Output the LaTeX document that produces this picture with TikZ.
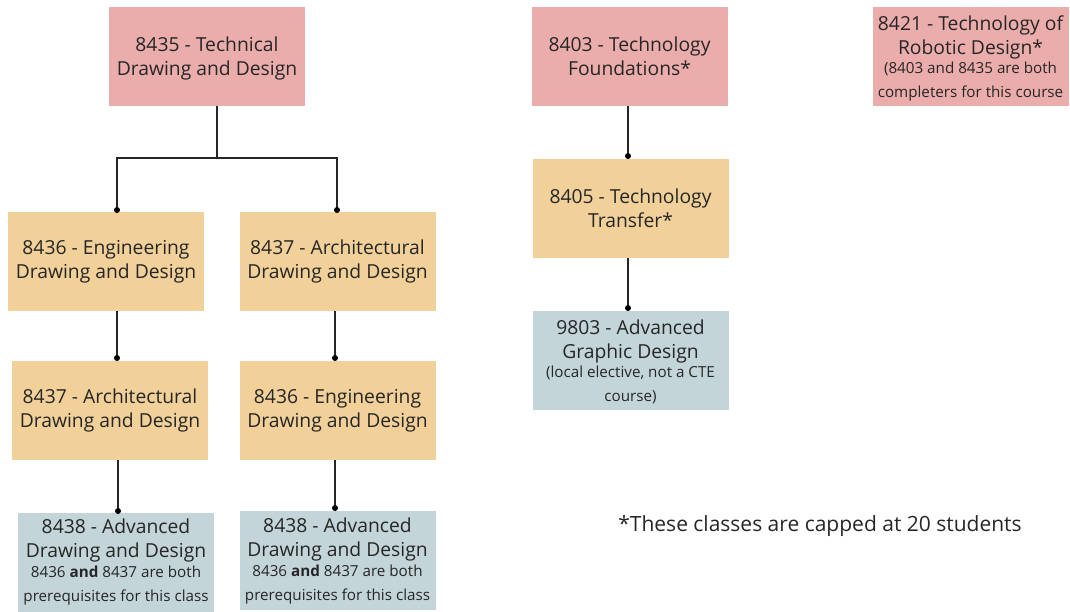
\documentclass[tikz,border=0pt]{standalone}
\usepackage{fontspec}
\setmainfont{Open Sans}
\usetikzlibrary{calc}
\definecolor{pinkbox}{HTML}{EBADAB}
\definecolor{orangebox}{HTML}{F1D199}
\definecolor{bluebox}{HTML}{C3D5D9}
\definecolor{textgray}{HTML}{262626}
\tikzset{
  course/.style={minimum width=196pt, minimum height=99pt, inner sep=0pt,
    align=center, text=textgray, font=\fontsize{19.3}{24}\selectfont},
  first/.style={course, fill=pinkbox},
  middle/.style={course, fill=orangebox},
  last/.style={course, fill=bluebox},
  link/.style={draw=black!85, line width=1.3pt},
  joint/.style={circle, fill=black, inner sep=0pt, minimum size=6pt},
}
\newcommand{\smalltext}{\fontsize{15.2}{19}\selectfont}
\begin{document}
\begin{tikzpicture}[x=1pt, y=-1pt]
\useasboundingbox (0,0) rectangle (1070,612);
% top row
\node[first, text depth=0pt] (tdd) at (207,56.5) {8435 - Technical\\Drawing and Design};
\node[first, text depth=0pt] (tf) at (629.5,56.5) {8403 - Technology\\Foundations*};
\node[first, text depth=-5pt] (rob) at (970.5,56.5) {8421 - Technology of\\Robotic Design*\\[-5pt]\smalltext (8403 and 8435 are both\\\smalltext completers for this course};
% second row
\node[middle] (eng1) at (106,261.5) {8436 - Engineering\\Drawing and Design};
\node[middle] (arch1) at (337.5,261.5) {8437 - Architectural\\Drawing and Design};
\node[middle] (tt) at (630.5,208.5) {8405 - Technology\\Transfer*};
% third row
\node[middle] (arch2) at (110,410.5) {8437 - Architectural\\Drawing and Design};
\node[middle] (eng2) at (337.5,410.5) {8436 - Engineering\\Drawing and Design};
\node[last, text depth=-5pt] (gd) at (630.5,360.5) {9803 - Advanced\\Graphic Design\\[-5pt]\smalltext (local elective, not a CTE\\\smalltext course)};
% bottom row
\node[last] (adv1) at (116,562) {8438 - Advanced\\Drawing and Design\\[-4pt]\smalltext 8436 \textbf{and} 8437 are both\\\smalltext prerequisites for this class};
\node[last] (adv2) at (337.5,560.5) {8438 - Advanced\\Drawing and Design\\[-4pt]\smalltext 8436 \textbf{and} 8437 are both\\\smalltext prerequisites for this class};
% footnote
\node[text=textgray, font=\fontsize{21}{26}\selectfont] (note) at (820,526) {*These classes are capped at 20 students};

% branching from the technical drawing course
\coordinate (top) at (217,106);
\coordinate (split) at (217,158);
\coordinate (d1) at (117,210);
\coordinate (d2) at (337,210);
\draw[link] (top) -- (split);
\draw[link] (d1) |- (split) -| (d2);
\node[joint] at (d1) {};
\node[joint] at (d2) {};

% straight links down each column
\coordinate (s1) at (117,311);
\coordinate (e1) at (117,358);
\draw[link] (s1) -- (e1); \node[joint] at (e1) {};
\coordinate (s2) at (118,460);
\coordinate (e2) at (118,511);
\draw[link] (s2) -- (e2); \node[joint] at (e2) {};
\coordinate (s3) at (335,311);
\coordinate (e3) at (335,358);
\draw[link] (s3) -- (e3); \node[joint] at (e3) {};
\coordinate (s4) at (335,460);
\coordinate (e4) at (335,508);
\draw[link] (s4) -- (e4); \node[joint] at (e4) {};
\coordinate (s5) at (628,106);
\coordinate (e5) at (628,156);
\draw[link] (s5) -- (e5); \node[joint] at (e5) {};
\coordinate (s6) at (628,258);
\coordinate (e6) at (628,308);
\draw[link] (s6) -- (e6); \node[joint] at (e6) {};
\end{tikzpicture}
\end{document}
